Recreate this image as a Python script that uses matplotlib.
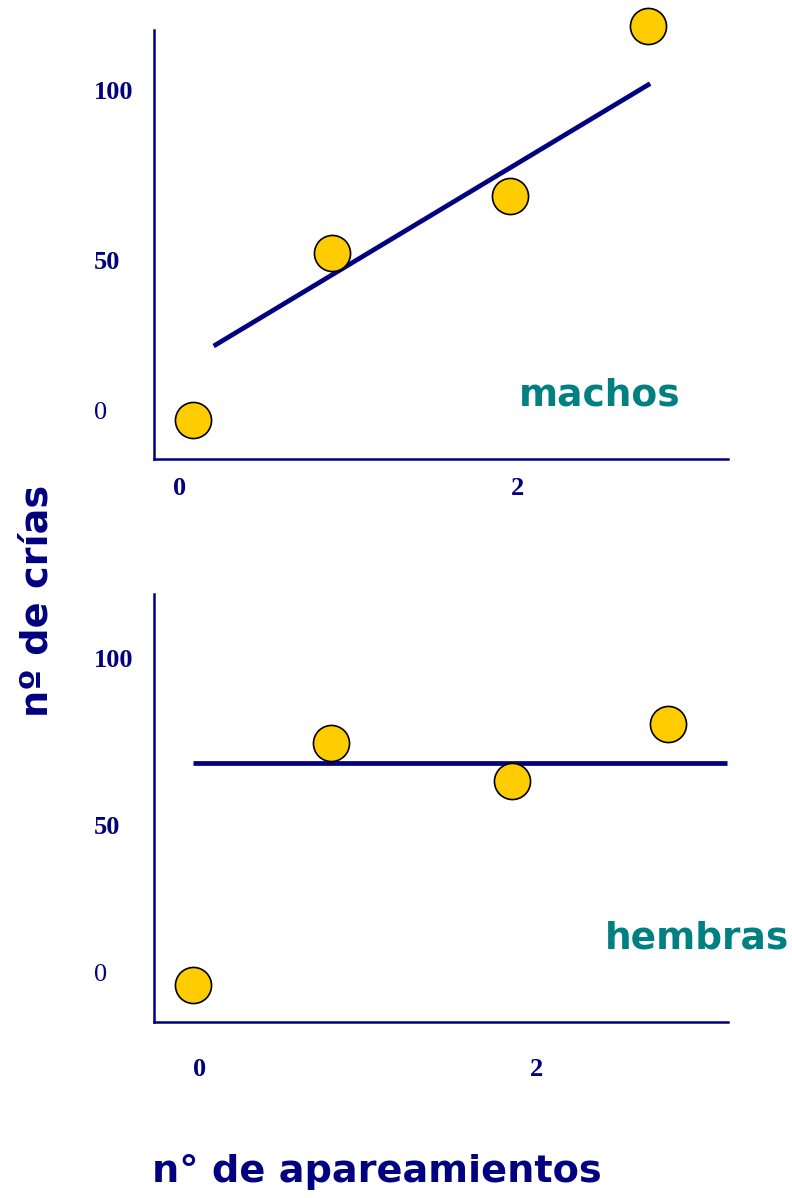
import matplotlib.pyplot as plt

# data (x = number of matings, y = number of offspring)
machos_x = [0.08, 0.90, 1.96, 2.78]
machos_y = [-3, 49, 67, 120]
machos_fit_x = [0.20, 2.79]
machos_fit_y = [20, 102]

hembras_x = [-0.04, 0.78, 1.85, 2.78]
hembras_y = [-4, 73, 61, 79]
hembras_fit_x = [-0.04, 3.13]
hembras_fit_y = [66.7, 66.7]

y_ticks = [0, 47, 100]
y_tick_labels = ['0', '50', '100']
x_ticks = [0, 2]
x_tick_labels = ['0', '2']

navy = '#000080'
teal = '#008080'
gold = '#FFCC00'

fig = plt.figure(figsize=(7.92, 11.98), dpi=100)
ax1 = fig.add_axes([154/792, 1-459/1198, 574/792, 429/1198])
ax2 = fig.add_axes([154/792, 1-1022/1198, 574/792, 428/1198])

panels = [
    (ax1, machos_x, machos_y, machos_fit_x, machos_fit_y, (-0.154, 3.252), (-15.3, 118.75), 14),
    (ax2, hembras_x, hembras_y, hembras_fit_x, hembras_fit_y, (-0.273, 3.134), (-15.6, 120.3), 27),
]

for ax, xs, ys, fx, fy, xl, yl, xpad in panels:
    ax.set_xlim(*xl)
    ax.set_ylim(*yl)
    ax.plot(fx, fy, color=navy, lw=3.4, solid_capstyle='butt', zorder=2)
    ax.plot(xs, ys, 'o', ms=26, mfc=gold, mec='black', mew=1.2, clip_on=False, zorder=3)
    for s in ['top', 'right']:
        ax.spines[s].set_visible(False)
    for s in ['left', 'bottom']:
        ax.spines[s].set_color(navy)
        ax.spines[s].set_linewidth(1.8)
    ax.set_yticks(y_ticks)
    ax.set_yticklabels(y_tick_labels, family='Liberation Serif', fontsize=19,
                       color=navy, fontweight='bold', ha='left')
    ax.get_yticklabels()[0].set_fontweight('normal')
    ax.tick_params(axis='y', length=0, pad=43)
    ax.set_xticks(x_ticks)
    ax.set_xticklabels(x_tick_labels, family='Liberation Serif', fontsize=19,
                       color=navy, fontweight='bold')
    ax.tick_params(axis='x', length=0, pad=xpad - 1)
    ax.patch.set_alpha(0)

ax1.text(2.49, 4.5, 'machos', color=teal, fontsize=27, fontweight='bold',
         ha='center', va='center', family='DejaVu Sans')
ax2.text(2.95, 11, 'hembras', color=teal, fontsize=27, fontweight='bold',
         ha='center', va='center', family='DejaVu Sans', clip_on=False)

fig.text(38/792, 1-601/1198, 'nº de crías', rotation=90, color=navy, fontsize=27.5,
         fontweight='bold', ha='center', va='center', family='DejaVu Sans')
fig.text(377/792, 1-1172/1198, 'n° de apareamientos', color=navy, fontsize=27.5,
         fontweight='bold', ha='center', va='center', family='DejaVu Sans')

fig.savefig('out.png', dpi=100)
